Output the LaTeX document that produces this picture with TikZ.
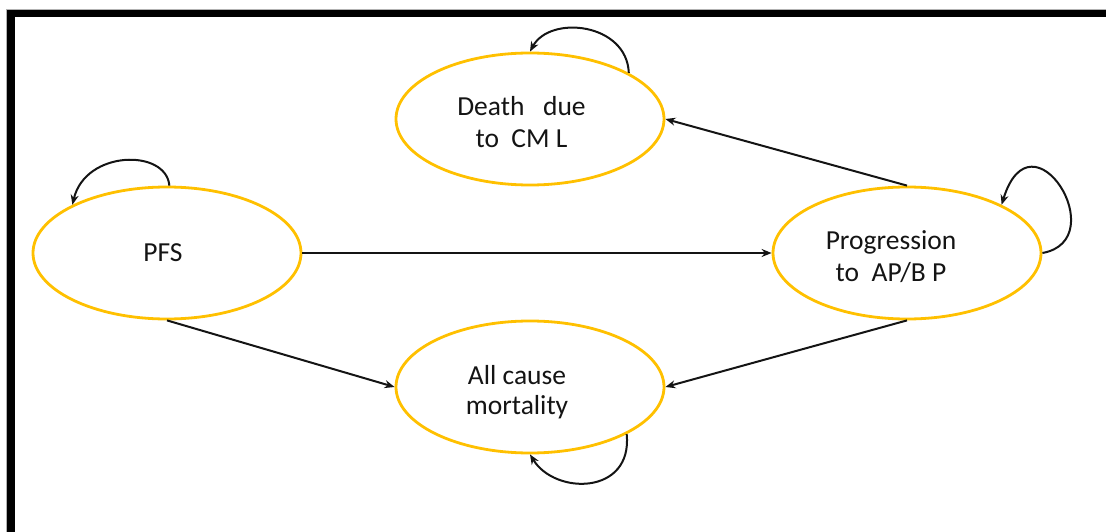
\documentclass[tikz,border=0pt]{standalone}
\usepackage{fontspec}
\setmainfont{Carlito}
\usetikzlibrary{arrows.meta,shapes.geometric}
\definecolor{stategold}{RGB}{255,192,0}
\definecolor{flowink}{RGB}{20,20,20}
\begin{document}
\begin{tikzpicture}[x=1pt,y=-1pt,
  state/.style={ellipse,draw=stategold,line width=2.8pt,minimum width=268pt,minimum height=132pt,inner sep=0pt},
  lbl/.style={align=center,font=\fontsize{27.5}{32}\selectfont,inner sep=0pt,text=flowink},
  flow/.style={draw=flowink,line width=2pt,-{Stealth[length=10pt,width=8pt]}}]
\useasboundingbox (0,0) rectangle (1106,532);
% heavy frame on the top and left edges
\fill[black] (7,10) rectangle (1106,17.5);
\fill[black] (7,10) rectangle (15,532);
\draw[gray!60,line width=0.6pt] (6.3,532) -- (6.3,9.3) -- (1106,9.3);

% states
\node[state] (death) at (530,119) {};
\node[state] (pfs)   at (167,253) {};
\node[state] (prog)  at (907,253) {};
\node[state] (all)   at (530,387) {};

% state labels
\node[lbl] (deathtxt) at (521.5,122) {Death\ \ \ due\\to\ \ CM L};
\node[lbl] (pfstxt)   at (163,253) {PFS};
\node[lbl] (progtxt)  at (891,257) {Progression\\to\ \ AP/B P};
\node[lbl,font=\fontsize{27.5}{30}\selectfont] (alltxt) at (517,392) {All cause\\mortality};

% transitions
\draw[flow] (pfs.east) -- (prog.west);
\draw[flow] (pfs.south) -- (all.west);
\draw[flow] (prog.south) -- (all.east);
\draw[flow] (prog.north) -- (death.east);

% staying in the same state
\draw[flow] (death.25) .. controls +(-2,-50) and +(20,-37) .. (death.north);
\draw[flow] (pfs.88) .. controls +(-3,-37) and +(13,-55) .. (pfs.153);
\draw[flow] (prog.east) .. controls +(72,-13) and +(30,-98) .. (prog.27);
\draw[flow] (all.-26) .. controls +(6,61) and +(25,41) .. (all.south);
\end{tikzpicture}
\end{document}
